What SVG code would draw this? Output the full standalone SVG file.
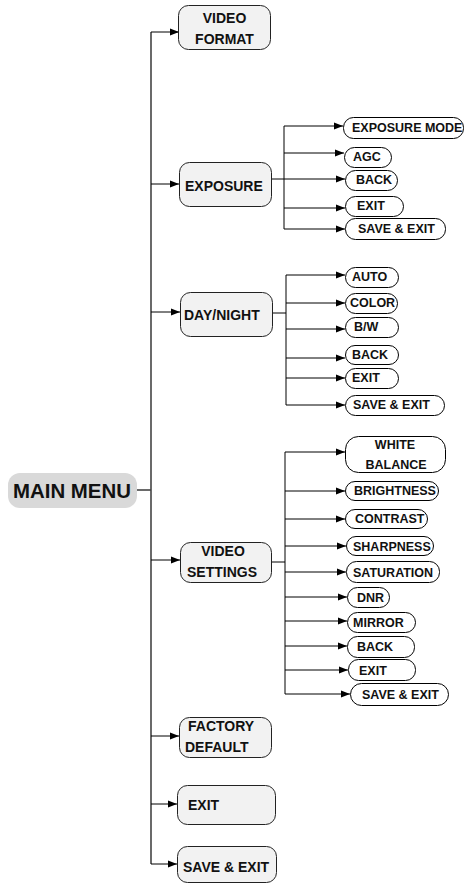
<svg xmlns="http://www.w3.org/2000/svg" width="470" height="884" viewBox="0 0 470 884">
<defs>
<marker id="ah" markerWidth="10" markerHeight="8" refX="9" refY="4" orient="auto" markerUnits="userSpaceOnUse">
<path d="M0,0.5 L9,4 L0,7.5 Z" fill="#000"/>
</marker>
<style>
.node rect{fill:#f2f2f2;stroke:#222;stroke-width:1}
.sub rect{fill:#fff;stroke:#000;stroke-width:1}
text{font-family:"Liberation Sans",Arial,sans-serif;font-weight:bold;fill:#111}
.node text{font-size:14px}
.sub text{font-size:12.5px}
.trunk{stroke:#444;stroke-width:1.6;fill:none}
.br{stroke:#000;stroke-width:1;fill:none}
.arr{stroke:#000;stroke-width:1;fill:none;marker-end:url(#ah)}
</style>
</defs>
<rect width="470" height="884" fill="#fff"/>
<g id="connectors">
<path class="trunk" d="M151,32 V864"/>
<path class="trunk" d="M137,490 H151"/>
<path class="arr" d="M151,32 H179"/>
<path class="arr" d="M151,184 H179"/>
<path class="arr" d="M151,312 H180"/>
<path class="arr" d="M151,560 H180"/>
<path class="arr" d="M151,736 H179"/>
<path class="arr" d="M151,804 H177"/>
<path class="arr" d="M151,864 H177"/>
<path class="br" d="M272,179 H284 M284,126 V229"/>
<path class="arr" d="M284,126 H343"/>
<path class="arr" d="M284,153 H344"/>
<path class="arr" d="M284,179 H345"/>
<path class="arr" d="M284,208 H345"/>
<path class="arr" d="M284,229 H345"/>
<path class="br" d="M273,313 H286 M286,275 V405"/>
<path class="arr" d="M286,275 H345"/>
<path class="arr" d="M286,303 H345"/>
<path class="arr" d="M286,329 H345"/>
<path class="arr" d="M286,358 H345"/>
<path class="arr" d="M286,378 H345"/>
<path class="arr" d="M286,405 H345"/>
<path class="br" d="M272,562 H285 M285,452 V694"/>
<path class="arr" d="M285,452 H345"/>
<path class="arr" d="M285,491 H345"/>
<path class="arr" d="M285,519 H345"/>
<path class="arr" d="M285,546 H346"/>
<path class="arr" d="M285,572 H346"/>
<path class="arr" d="M285,597 H347"/>
<path class="arr" d="M285,621 H347"/>
<path class="arr" d="M285,646 H347"/>
<path class="arr" d="M285,670 H348"/>
<path class="arr" d="M285,694 H350"/>
</g>
<g id="main-menu"><rect x="8" y="473" width="129" height="35" rx="12" fill="#d9d9d9"/><text x="13" y="498" font-size="19.5" textLength="118" lengthAdjust="spacingAndGlyphs">MAIN MENU</text></g>
<g id="video-format" class="node"><rect x="178.5" y="5.5" width="92" height="44" rx="10"/><text x="224.5" y="23" text-anchor="middle">VIDEO</text><text x="224.5" y="44" text-anchor="middle">FORMAT</text></g>
<g id="exposure" class="node"><rect x="179.5" y="162.5" width="92" height="44" rx="10"/><text x="185" y="191">EXPOSURE</text></g>
<g id="day-night" class="node"><rect x="180.5" y="292.5" width="92" height="44" rx="10"/><text x="184" y="320">DAY/NIGHT</text></g>
<g id="video-settings" class="node"><rect x="180.5" y="542.5" width="91" height="40" rx="10"/><text x="223" y="556" text-anchor="middle">VIDEO</text><text x="222" y="577" text-anchor="middle">SETTINGS</text></g>
<g id="factory-default" class="node"><rect x="179.5" y="717.5" width="92" height="40" rx="10"/><text x="188" y="731">FACTORY</text><text x="185" y="752">DEFAULT</text></g>
<g id="exit" class="node"><rect x="177.5" y="785.5" width="98" height="39" rx="10"/><text x="188" y="810">EXIT</text></g>
<g id="save-exit" class="node"><rect x="177.5" y="846.5" width="99" height="36" rx="10"/><text x="183" y="872">SAVE &amp; EXIT</text></g>
<g id="exposure-mode" class="sub"><rect x="343.5" y="117.5" width="120" height="21" rx="10"/><text x="352" y="132">EXPOSURE MODE</text></g>
<g id="agc" class="sub"><rect x="344.5" y="147.5" width="47" height="20" rx="10"/><text x="353" y="161">AGC</text></g>
<g id="exp-back" class="sub"><rect x="345.5" y="170.5" width="52" height="20" rx="10"/><text x="356" y="184">BACK</text></g>
<g id="exp-exit" class="sub"><rect x="345.5" y="196.5" width="58" height="20" rx="10"/><text x="357" y="210">EXIT</text></g>
<g id="exp-save-exit" class="sub"><rect x="345.5" y="218.5" width="100" height="21" rx="10"/><text x="358" y="233">SAVE &amp; EXIT</text></g>
<g id="auto" class="sub"><rect x="345.5" y="267.5" width="53" height="20" rx="10"/><text x="352" y="281">AUTO</text></g>
<g id="color" class="sub"><rect x="345.5" y="293.5" width="52" height="20" rx="10"/><text x="350" y="307">COLOR</text></g>
<g id="bw" class="sub"><rect x="345.5" y="317.5" width="53" height="20" rx="10"/><text x="354" y="331">B/W</text></g>
<g id="dn-back" class="sub"><rect x="345.5" y="345.5" width="53" height="19" rx="9.5"/><text x="352" y="359">BACK</text></g>
<g id="dn-exit" class="sub"><rect x="345.5" y="368.5" width="53" height="20" rx="10"/><text x="352" y="382">EXIT</text></g>
<g id="dn-save-exit" class="sub"><rect x="345.5" y="395.5" width="99" height="20" rx="10"/><text x="353" y="409">SAVE &amp; EXIT</text></g>
<g id="white-balance" class="sub"><rect x="345.5" y="436.5" width="100" height="36" rx="13"/><text x="395" y="449" text-anchor="middle">WHITE</text><text x="396" y="469" text-anchor="middle">BALANCE</text></g>
<g id="brightness" class="sub"><rect x="345.5" y="481.5" width="93" height="19" rx="9.5"/><text x="354" y="495">BRIGHTNESS</text></g>
<g id="contrast" class="sub"><rect x="345.5" y="509.5" width="82" height="19" rx="9.5"/><text x="355" y="523">CONTRAST</text></g>
<g id="sharpness" class="sub"><rect x="346.5" y="536.5" width="87" height="19" rx="9.5"/><text x="353" y="551">SHARPNESS</text></g>
<g id="saturation" class="sub"><rect x="346.5" y="561.5" width="93" height="21" rx="10"/><text x="353" y="577">SATURATION</text></g>
<g id="dnr" class="sub"><rect x="347.5" y="587.5" width="42" height="20" rx="10"/><text x="357" y="602">DNR</text></g>
<g id="mirror" class="sub"><rect x="347.5" y="612.5" width="68" height="20" rx="10"/><text x="353" y="627">MIRROR</text></g>
<g id="vs-back" class="sub"><rect x="347.5" y="636.5" width="67" height="21" rx="10"/><text x="357" y="651">BACK</text></g>
<g id="vs-exit" class="sub"><rect x="348.5" y="659.5" width="67" height="21" rx="10"/><text x="359" y="675">EXIT</text></g>
<g id="vs-save-exit" class="sub"><rect x="350.5" y="683.5" width="98" height="22" rx="11"/><text x="362" y="699">SAVE &amp; EXIT</text></g>
</svg>
